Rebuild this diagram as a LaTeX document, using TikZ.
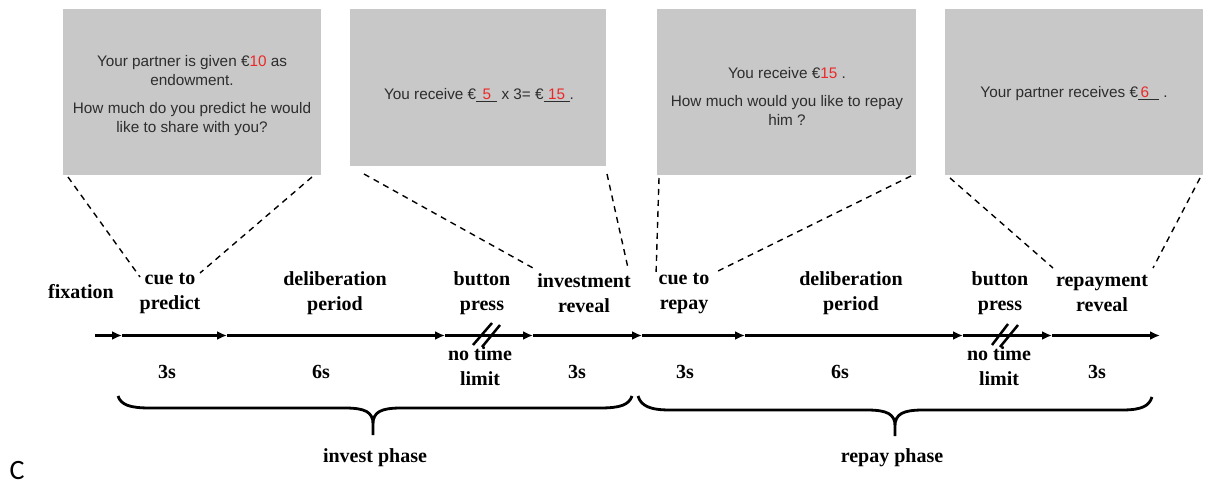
\documentclass[tikz,border=0pt]{standalone}
\usepackage{fontspec}
\setmainfont{Liberation Serif}
\newfontfamily\boxfont{Liberation Sans}
\newfontfamily\letterfont{Carlito}
\usetikzlibrary{arrows.meta,calc}
\definecolor{boxgray}{RGB}{200,200,200}
\definecolor{boxtext}{RGB}{45,45,45}
\definecolor{numred}{RGB}{235,40,40}
\newcommand\fillblank[3][c]{\underline{\makebox[#2][#1]{\textcolor{numred}{#3}}}}
\begin{document}
\begin{tikzpicture}[x=1pt,y=-1pt,
  graybox/.style={fill=boxgray, draw=none, inner sep=0pt},
  boxtxt/.style={font=\boxfont\fontsize{15.3}{19}\selectfont, text=boxtext, align=center, inner sep=0pt},
  lbl/.style={font=\bfseries\fontsize{20}{25}\selectfont, align=center, inner sep=0pt},
  dashline/.style={dash pattern=on 6pt off 5pt, line width=1.4pt},
  tl/.style={line width=2.5pt, -{Latex[length=10pt,width=9pt]}},
  brk/.style={line width=2.5pt},
  bracepath/.style={line width=2.8pt, line join=round}
]
\useasboundingbox (0,0) rectangle (1206,486);

% gray screens
\node[graybox, minimum width=258pt, minimum height=166pt] (b1) at (192,92) {};
\node[graybox, minimum width=256pt, minimum height=157pt] (b2) at (478,87.5) {};
\node[graybox, minimum width=259pt, minimum height=166pt] (b3) at (786.5,92) {};
\node[graybox, minimum width=258pt, minimum height=166pt] (b4) at (1074,92) {};

\node[boxtxt] (s1) at (192,96) {Your partner is given €\textcolor{numred}{10} as\\endowment.\\[9pt]How much do you predict he would\\like to share with you?};
\node[boxtxt] (s2) at (479,95) {You receive €\fillblank{21pt}{5} x 3= €\fillblank{26pt}{15}.};
\node[boxtxt] (s3) at (787,96) {You receive €\textcolor{numred}{15} .\\[9pt]How much would you like to repay\\him ?};
\node[boxtxt] (s4) at (1074,94) {Your partner receives €\fillblank[l]{21pt}{\,6} .};

% dashed zoom lines
\coordinate (z1a) at (68,177);   \coordinate (e1a) at (140,277);
\coordinate (z1b) at (312,177);  \coordinate (e1b) at (200,273);
\coordinate (z2a) at (364,174);  \coordinate (e2a) at (533,268);
\coordinate (z2b) at (607,174);  \coordinate (e2b) at (628,268);
\coordinate (z3a) at (659,178);  \coordinate (e3a) at (656,275);
\coordinate (z3b) at (911,176);  \coordinate (e3b) at (714,273);
\coordinate (z4a) at (950,178);  \coordinate (e4a) at (1053,268);
\coordinate (z4b) at (1200,178); \coordinate (e4b) at (1153,268);
\foreach \i in {1,2,3,4}{
  \draw[dashline] (z\i a) -- (e\i a);
  \draw[dashline] (z\i b) -- (e\i b);
}

% timeline
\coordinate (t0) at (95,335.5);
\coordinate (t1) at (122,335.5);
\coordinate (t2) at (227,335.5);
\coordinate (t3) at (445,335.5);
\coordinate (t4) at (533,335.5);
\coordinate (t5) at (642,335.5);
\coordinate (t6) at (745,335.5);
\coordinate (t7) at (963,335.5);
\coordinate (t8) at (1052,335.5);
\coordinate (t9) at (1160,335.5);
\draw[tl] (t0) -- (t1);
\draw[tl] (t1) -- (t2);
\draw[tl] (t2) -- (t3);
\draw[tl] (t3) -- (t4);
\draw[tl] (t4) -- (t5);
\draw[tl] (t5) -- (t6);
\draw[tl] (t6) -- (t7);
\draw[tl] (t7) -- (t8);
\draw[tl] (t8) -- (t9);

% break marks
\coordinate (k1a) at (473,345); \coordinate (k1b) at (492,323);
\coordinate (k2a) at (482,347); \coordinate (k2b) at (500,325);
\coordinate (k3a) at (992,345); \coordinate (k3b) at (1008,324);
\coordinate (k4a) at (1000,347); \coordinate (k4b) at (1018,325);
\draw[brk] (k1a) -- (k1b);
\draw[brk] (k2a) -- (k2b);
\draw[brk] (k3a) -- (k3b);
\draw[brk] (k4a) -- (k4b);

% labels above
\node[lbl] (fix) at (81,292) {fixation};
\node[lbl] (l1) at (170,293.5) {cue to\\predict};
\node[lbl] (l2) at (335,293.5) {deliberation\\period};
\node[lbl] (l3) at (482,293.5) {button\\press};
\node[lbl] (l4) at (584,293.5) {investment\\reveal};
\node[lbl] (l5) at (684,293.5) {cue to\\repay};
\node[lbl] (l6) at (851,293.5) {deliberation\\period};
\node[lbl] (l7) at (1000,293.5) {button\\press};
\node[lbl] (l8) at (1102,293.5) {repayment\\reveal};

% durations
\node[lbl] (d1) at (167,372) {3s};
\node[lbl] (d2) at (321,372) {6s};
\node[lbl] (d3) at (480,366) {no time\\limit};
\node[lbl] (d4) at (577,372) {3s};
\node[lbl] (d5) at (685,372) {3s};
\node[lbl] (d6) at (840,372) {6s};
\node[lbl] (d7) at (999,366) {no time\\limit};
\node[lbl] (d8) at (1097,372) {3s};

% braces
\draw[bracepath] (118,396) .. controls (121,405) and (130,408) .. (150,408)
  -- (345,408) .. controls (365,408) and (373,412) .. (373,424) -- (373,435)
  (373,424) .. controls (373,412) and (381,408) .. (401,408)
  -- (600,408) .. controls (620,408) and (629,405) .. (632,396);
\draw[bracepath] (638,396) .. controls (641,406) and (650,410) .. (670,410)
  -- (867,410) .. controls (887,410) and (895,414) .. (895,426) -- (895,436)
  (895,426) .. controls (895,414) and (903,410) .. (923,410)
  -- (1122,410) .. controls (1142,410) and (1149,406) .. (1152,397);

\node[lbl] (ph1) at (375,458) {invest phase};
\node[lbl] (ph2) at (892,458) {repay phase};
\node[font=\letterfont\fontsize{28}{28}\selectfont, inner sep=0pt] (C) at (17,471) {C};
\end{tikzpicture}
\end{document}
